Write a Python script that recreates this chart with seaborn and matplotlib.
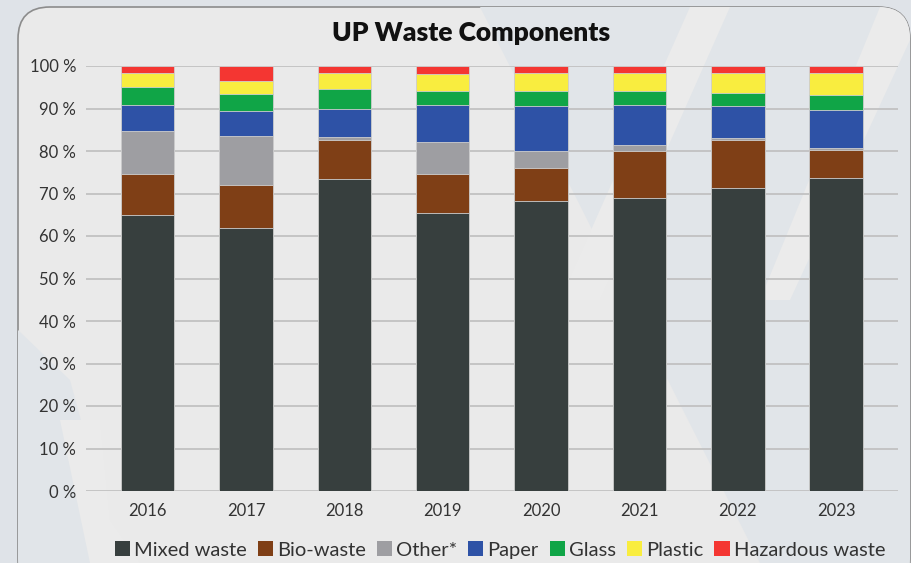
import pandas as pd
import seaborn as sns
import matplotlib.pyplot as plt
from matplotlib.patches import FancyBboxPatch, Patch, Polygon

# values, share of total (%)
years = ['2016', '2017', '2018', '2019', '2020', '2021', '2022', '2023']
mixed = [64.9, 61.8, 73.4, 65.5, 68.3, 69.0, 71.2, 73.6]
bio = [9.6, 10.3, 9.1, 9.0, 7.6, 10.9, 11.3, 6.7]
other = [10.1, 11.4, 0.7, 7.7, 4.0, 1.5, 0.5, 0.3]
paper = [6.2, 6.0, 6.8, 8.7, 10.8, 9.5, 7.6, 9.1]
glass = [4.2, 3.8, 4.6, 3.2, 3.4, 3.2, 3.0, 3.5]
plastic = [3.4, 3.2, 3.8, 4.1, 4.2, 4.3, 4.8, 5.2]
hazardous = [1.6, 3.5, 1.6, 1.8, 1.7, 1.6, 1.6, 1.6]

components = ['Mixed waste', 'Bio-waste', 'Other*', 'Paper', 'Glass', 'Plastic', 'Hazardous waste']
colors = ['#373f3e', '#7f3f16', '#9e9ea2', '#2e52a6', '#10a547', '#f9ed3f', '#f43632']

df = pd.DataFrame({'Year': years, 'Mixed waste': mixed, 'Bio-waste': bio, 'Other*': other,
                   'Paper': paper, 'Glass': glass, 'Plastic': plastic, 'Hazardous waste': hazardous})
cum = df[components].cumsum(axis=1)
cum['Year'] = df['Year']

plt.rcParams['font.family'] = ['Lato', 'DejaVu Sans']

W, H = 911, 563
fig = plt.figure(figsize=(W / 100, H / 100), dpi=100)
fig.patch.set_facecolor('#dfe3e8')

# card with rounded corners and faint diagonal watermark bands
card = FancyBboxPatch((18 / W, -0.05), 892 / W, (H - 7) / H + 0.05,
                      boxstyle='round,pad=0,rounding_size=0.035', transform=fig.transFigure,
                      facecolor='#eaeaea', edgecolor='#8c8c8c', linewidth=1.2, zorder=0,
                      mutation_aspect=W / H)
fig.patches.append(card)
bands = [
    [(480, 7), (910, 7), (910, 563), (760, 563)],
    [(18, 330), (70, 380), (120, 563), (18, 563)],
]
for pts in bands:
    poly = Polygon([(x / W, 1 - y / H) for x, y in pts], closed=True, transform=fig.transFigure,
                   facecolor='#e1e5e9', edgecolor='none', zorder=0.5)
    poly.set_clip_path(card)
    fig.patches.append(poly)
lights = [
    [(690, 7), (730, 7), (600, 300), (560, 300)],
    [(880, 7), (910, 7), (910, 40), (790, 300), (760, 300)],
    [(60, 420), (100, 420), (110, 520), (140, 563), (90, 563)],
]
for pts in lights:
    poly = Polygon([(x / W, 1 - y / H) for x, y in pts], closed=True, transform=fig.transFigure,
                   facecolor='#ebebeb', edgecolor='none', zorder=0.6)
    poly.set_clip_path(card)
    fig.patches.append(poly)

ax = fig.add_axes([86 / W, 1 - 491 / H, (898 - 86) / W, (491 - 66) / H])
ax.set_facecolor('none')
ax.set_zorder(2)

# draw the cumulative totals from the top down so each layer covers the next
for comp, col in zip(reversed(components), reversed(colors)):
    sns.barplot(data=cum, x='Year', y=comp, color=col, width=0.545, saturation=1,
                edgecolor='#cfcfcf', linewidth=0.6, ax=ax, zorder=3)

ax.set_xlim(-0.627, 7.63)
ax.set_ylim(0, 100)
ax.set_yticks(range(0, 101, 10))
ax.set_yticklabels([f'{v} %' for v in range(0, 101, 10)])
ax.yaxis.grid(True, color='#c4c4c4', linewidth=1.4)
ax.set_axisbelow(True)
for s in ax.spines.values():
    s.set_visible(False)
ax.tick_params(axis='both', length=0, labelsize=12, colors='#333333')
ax.tick_params(axis='y', pad=7)
ax.tick_params(axis='x', pad=9)
ax.set_xlabel('')
ax.set_ylabel('')

fig.text(471 / W, 1 - 33 / H, 'UP Waste Components', ha='center', va='center',
         fontsize=19, fontweight='heavy', color='#111111')

handles = [Patch(facecolor=c, edgecolor='none', label=l) for c, l in zip(colors, components)]
fig.legend(handles=handles, loc='center', bbox_to_anchor=(500 / W, 1 - 550 / H), ncol=7,
           frameon=False, fontsize=14.5, handlelength=0.75, handleheight=0.75,
           handletextpad=0.2, columnspacing=0.55, labelcolor='#333333')

fig.savefig('out.png', dpi=100, facecolor=fig.get_facecolor())
